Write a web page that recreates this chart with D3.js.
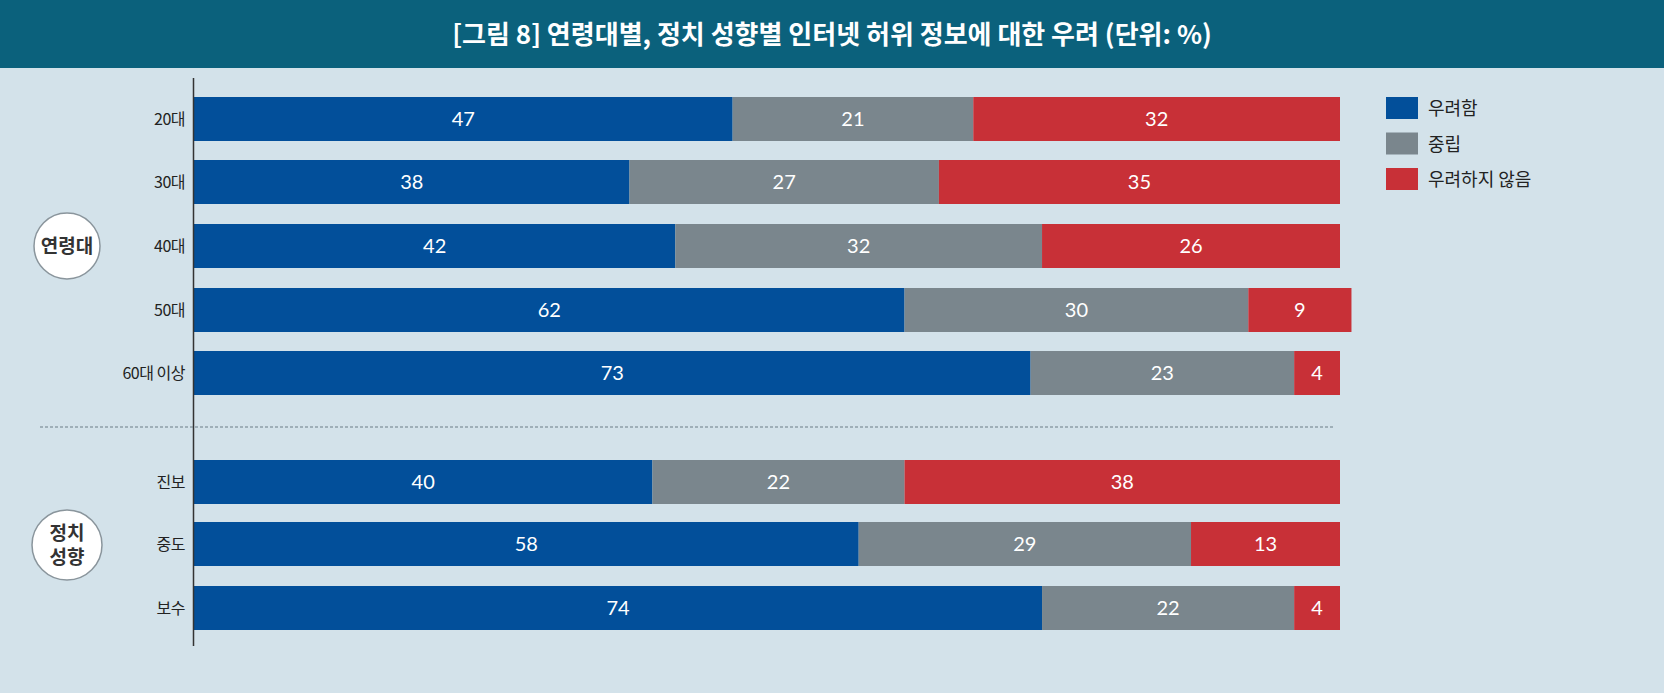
<!DOCTYPE html>
<html><head><meta charset="utf-8">
<script src="https://cdn.jsdelivr.net/npm/d3@7/dist/d3.min.js"></script>
<style>body{margin:0;background:#d3e2ea;font-family:"Noto Sans CJK KR","Noto Sans",sans-serif}</style>
</head><body><svg id="c" width="1664" height="693"></svg>
<script>
const categories=["20대","30대","40대","50대","60대 이상","진보","중도","보수"];
const groupOf=[0,0,0,0,0,1,1,1];
const seriesNames=["우려함","중립","우려하지 않음"];
const worried=[47,38,42,62,73,40,58,74];
const neutral=[21,27,32,30,23,22,29,22];
const notWorried=[32,35,26,9,4,38,13,4];
const colors=["#024f9a","#7a868d","#c83037"];
const title="[그림 8] 연령대별, 정치 성향별 인터넷 허위 정보에 대한 우려 (단위: %)";

const svg=d3.select("#c");
svg.append("rect").attr("width",1664).attr("height",693).attr("fill","#d3e2ea");
svg.append("rect").attr("width",1664).attr("height",68).attr("fill","#0b617c");
svg.append("text").attr("x",832).attr("y",44).attr("text-anchor","middle").attr("fill","#fff")
 .attr("font-size",26).attr("font-weight",700).text(title);

const x=d3.scaleLinear().domain([0,100]).range([194,1340]);
const rowY=[97,160,224,288,351,460,522,586];
const bh=44;
const series=[worried,neutral,notWorried];
categories.forEach((c,i)=>{
  let acc=0;
  series.forEach((s,k)=>{
    const v=s[i];
    svg.append("rect").attr("x",x(acc)).attr("y",rowY[i]).attr("width",x(acc+v)-x(acc)).attr("height",bh).attr("fill",colors[k]);
    svg.append("text").attr("x",(x(acc)+x(acc+v))/2).attr("y",rowY[i]+bh/2+7).attr("text-anchor","middle")
      .attr("fill","#fff").attr("font-size",20).attr("font-family","Lato,'Noto Sans',sans-serif").text(v);
    acc+=v;
  });
  svg.append("text").attr("x",185).attr("y",rowY[i]+bh/2+6).attr("text-anchor","end").attr("fill","#222")
   .attr("font-size",16).attr("letter-spacing",-0.5).text(c);
});
svg.append("line").attr("x1",193.5).attr("x2",193.5).attr("y1",78).attr("y2",646).attr("stroke","#333").attr("stroke-width",1.5);
svg.append("line").attr("x1",40).attr("x2",1334).attr("y1",427).attr("y2",427).attr("stroke","#6a7c86").attr("stroke-dasharray","3,2");

// group circles
[[246,["연령대"]],[545,["정치","성향"]]].forEach(([cy,lines])=>{
  svg.append("circle").attr("cx",67).attr("cy",cy).attr("r",lines.length>1?35:33).attr("fill","#fff").attr("stroke","#8a959c").attr("stroke-width",1.5);
  lines.forEach((t,j)=>{
    svg.append("text").attr("x",67).attr("y",cy+7+(j-(lines.length-1)/2)*24).attr("text-anchor","middle")
     .attr("font-size",19).attr("font-weight",700).attr("fill","#333").text(t);
  });
});

// legend
seriesNames.forEach((n,k)=>{
  const y=97+k*35.5;
  svg.append("rect").attr("x",1386).attr("y",y).attr("width",32).attr("height",22).attr("fill",colors[k]);
  svg.append("text").attr("x",1428).attr("y",y+18).attr("font-size",18).attr("fill","#222").text(n);
});
</script></body></html>
